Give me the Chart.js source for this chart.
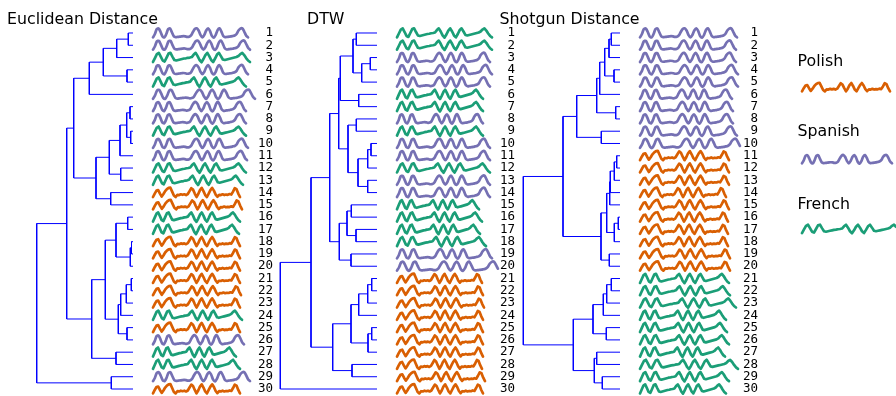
<!DOCTYPE html>
<html><head><meta charset="utf-8">
<script src="https://cdn.jsdelivr.net/npm/chart.js@4/dist/chart.umd.min.js"></script>
<style>
html,body{margin:0;padding:0;background:#fff;width:896px;height:396px;overflow:hidden;position:relative;}
canvas{position:absolute;top:0;}
.t{position:absolute;font-family:'DejaVu Sans',sans-serif;font-size:15.8px;line-height:16px;color:#000;white-space:nowrap;}
</style></head><body>
<script>
// ---------------- DATA ----------------
const rowLabels = [1,2,3,4,5,6,7,8,9,10,11,12,13,14,15,16,17,18,19,20,21,22,23,24,25,26,27,28,29,30];
const panelTitles = ['Euclidean Distance', 'DTW', 'Shotgun Distance'];
const classNames = {P: 'Polish', S: 'Spanish', F: 'French'};
const legendOrder = ['P', 'S', 'F'];

// class of each leaf (top to bottom) in each panel
const euclidClasses  = ['S','S','F','S','F','S','S','S','F','S','S','F','F','P','P','F','F','P','P','P','P','P','P','F','P','S','F','F','S','P'];
const dtwClasses     = ['F','F','S','S','S','F','F','S','F','S','S','F','S','S','F','F','F','F','S','S','P','P','P','P','P','P','P','P','P','P'];
const shotgunClasses = ['S','S','S','S','S','S','S','S','S','S','P','P','P','P','P','P','P','P','P','P','F','F','F','F','F','F','F','F','F','F'];

// series durations (time units) of each leaf series
const euclidDur   = [95,97,97,95,93,102,93,93,93,95,94,93,90,87,89,87,86,87,87,87,87,88,87,89,87,91,83,87,97,87];
const dtwDur      = [95,95,93,95,93,86,86,86,86,93,93,93,93,93,82,85,83,89,95,103,85,86,87,86,86,86,86,85,88,86];
const shotgunDur  = [97,96,96,98,98,92,93,93,97,102,89,89,89,86,89,88,88,88,90,90,89,90,96,86,87,89,85,98,89,86];

// linkage: [childA, childB, distance]; leaves 1..30, merged clusters numbered 31..59
const euclidMerges = [
 [1,2,4.7],[31,3,16.3],[4,5,6],[32,33,29.7],[34,6,43.7],[7,8,3],[9,10,2.3],[36,37,6.3],[38,11,13],
 [12,13,12.3],[39,40,23.7],[14,15,22.3],[41,42,37],[35,43,59.3],[16,17,5.3],[18,19,1.5],[46,20,2.7],
 [45,47,17],[21,22,1.7],[49,23,6.7],[50,24,12.3],[25,26,6],[51,52,14.7],[48,53,27.7],[27,28,17],
 [54,55,41.3],[44,56,66.3],[29,30,21.7],[57,58,96.3]
];
const dtwMerges = [
 [1,2,20.7],[3,4,6.7],[32,5,15.3],[31,33,24],[6,7,18.3],[34,35,36.7],[8,9,20.7],[10,11,6],[38,12,9.3],
 [13,14,9.3],[39,40,19],[37,41,29],[36,42,38.3],[15,16,25.7],[17,18,21],[44,45,30],[19,20,26],
 [46,47,37.7],[43,48,47.3],[21,22,5.3],[50,23,9.3],[51,24,18.3],[25,26,5.3],[53,27,9],[52,54,26],
 [28,29,25],[55,56,44.3],[49,57,66],[58,30,96.7]
];
const shotgunMerges = [
 [1,2,8.7],[31,3,11],[4,5,6],[32,33,15.3],[34,6,20.3],[7,8,4.3],[35,36,23.3],[9,10,18.7],[37,38,43.3],
 [11,12,3.3],[40,13,5.7],[41,14,9.7],[42,15,10.3],[16,17,1.7],[44,18,5.7],[43,45,13.3],[19,20,10.7],
 [46,47,19],[39,48,57],[21,22,8.7],[50,23,13.3],[51,24,16.7],[25,26,13.7],[52,53,27],[27,28,23.3],
 [29,30,17.7],[55,56,25.7],[54,57,46.7],[49,58,96.7]
];

// typical series shape of each class (normalised amplitude, equally spaced samples)
const polishWave = [-0.9,-0.2,0.4,0.5,-0.2,-0.8,-0.3,0.3,0.7,0.95,1.0,0.2,-0.6,-0.9,-0.45,-0.5,-0.35,-0.45,-0.35,-0.5,-0.3,0.3,0.9,0.6,-0.2,-0.9,-0.3,0.5,0.95,0.3,-0.5,-0.9,-0.2,0.5,0.95,0.4,-0.4,-0.85,-0.45,-0.5,-0.35,-0.5,-0.4,-0.45,-0.3,-0.4,0.2,0.9,0.7,-0.2,-0.9];
const spanishWave = [-0.9,-0.2,0.8,0.9,0.2,-0.7,-0.9,-0.2,0.8,0.9,0.1,-0.7,-0.85,-0.8,-0.75,-0.7,-0.65,-0.7,-0.8,-0.75,-0.5,0.2,0.8,0.95,0.5,-0.4,-0.9,-0.4,0.5,0.95,0.4,-0.6,-0.95,-0.4,0.6,0.95,0.3,-0.6,-0.85,-0.8,-0.75,-0.7,-0.6,-0.5,-0.2,0.5,0.9,0.95,0.3,-0.5,-0.9];
const frenchWave  = [-0.9,-0.1,0.7,0.95,0.2,-0.6,-0.8,0.0,0.8,0.95,0.2,-0.5,-0.6,-0.5,-0.4,-0.3,-0.2,-0.15,-0.05,0.0,0.1,0.6,0.95,0.3,-0.5,-0.95,-0.3,0.5,0.95,0.3,-0.5,-0.9,-0.2,0.6,0.95,0.3,-0.4,-0.5,-0.4,-0.3,-0.2,-0.1,0.0,0.1,0.3,0.7,0.95,0.5,-0.1,-0.6,-0.9];
const legendDur = {P: 88, S: 90, F: 100};

// ---------------- STYLE / LAYOUT ----------------
const COLORS = {P: '#d95f02', S: '#7570b3', F: '#1b9e77'};
const WAVES = {P: polishWave, S: spanishWave, F: frenchWave};
const TENSION = {P: 0, S: 0.3, F: 0};
const DENDRO_COLOR = '#0000ff';
const WAVE_GAP = 20;      // x-units between leaves and series
const LEFT_RESERVE = 110; // x-units reserved for the tree
const AXIS_W = 19;
const AMP = 0.4;          // series amplitude in rows
const panelGeom = [
  {leafEdge: 133, right: 273, titleX: 7},
  {leafEdge: 376.7, right: 515, titleX: 307},
  {leafEdge: 620, right: 758, titleX: 499.5}
];
const panels = [
  {merges: euclidMerges, classes: euclidClasses, dur: euclidDur},
  {merges: dtwMerges, classes: dtwClasses, dur: dtwDur},
  {merges: shotgunMerges, classes: shotgunClasses, dur: shotgunDur}
];

function addText(txt, left, top) {
  const d = document.createElement('div');
  d.className = 't'; d.textContent = txt;
  d.style.left = left + 'px'; d.style.top = top + 'px';
  document.body.appendChild(d);
}

function dendroSegments(merges, n) {
  const nodes = {};
  rowLabels.forEach(r => { nodes[r] = {h: 0, y: r}; });
  const segs = [];
  merges.forEach((m, k) => {
    const A = nodes[m[0]], B = nodes[m[1]], h = m[2];
    segs.push([{x: -A.h, y: A.y}, {x: -h, y: A.y}, {x: -h, y: B.y}, {x: -B.h, y: B.y}]);
    nodes[n + k + 1] = {h: h, y: (A.y + B.y) / 2};
  });
  return segs;
}

function wavePoints(cls, dur, x0, yc, amp) {
  const w = WAVES[cls];
  return w.map((v, i) => ({x: x0 + i / (w.length - 1) * dur, y: yc - v * amp}));
}

function waveDataset(cls, pts) {
  return {data: pts, borderColor: COLORS[cls], borderWidth: 2.7, pointRadius: 0, tension: TENSION[cls],
    fill: false, clip: false, borderJoinStyle: 'round', borderCapStyle: 'round'};
}

panels.forEach((p, pi) => {
  const g = panelGeom[pi];
  const left = g.leafEdge - LEFT_RESERVE;
  const W = Math.round(g.right - left);
  const cv = document.createElement('canvas');
  cv.width = W; cv.height = 396;
  cv.style.left = left + 'px'; cv.style.width = W + 'px'; cv.style.height = '396px';
  document.body.appendChild(cv);

  const datasets = [];
  dendroSegments(p.merges, rowLabels.length).forEach(s => {
    datasets.push({data: s, borderColor: DENDRO_COLOR, borderWidth: 1, pointRadius: 0, tension: 0, fill: false, clip: false});
  });
  rowLabels.forEach((r, i) => {
    const c = p.classes[i];
    datasets.push(waveDataset(c, wavePoints(c, p.dur[i], WAVE_GAP, r, AMP)));
  });

  new Chart(cv, {
    type: 'line',
    data: {datasets},
    options: {
      responsive: false, animation: false, devicePixelRatio: 1,
      layout: {padding: {top: 26.86, bottom: 0.86, left: 0, right: 0}},
      plugins: {legend: {display: false}, tooltip: {enabled: false}, title: {display: false}},
      scales: {
        x: {type: 'linear', min: -LEFT_RESERVE, max: W - AXIS_W - LEFT_RESERVE, display: false},
        y: {type: 'linear', position: 'right', reverse: true, min: 0.5, max: 30.5,
          grid: {display: false, drawTicks: false}, border: {display: false},
          afterBuildTicks: s => { s.ticks = rowLabels.map(v => ({value: v})); },
          afterFit: s => { s.width = AXIS_W; s.paddingTop = 0; s.paddingBottom = 0; },
          ticks: {crossAlign: 'far', padding: 4.5, color: '#000', autoSkip: false,
            font: {family: "'DejaVu Sans Mono', monospace", size: 12.5},
            callback: v => String(v)}
        }
      }
    }
  });
  addText(panelTitles[pi], g.titleX, 10.5);
});

// legend
(function(){
  const left = 780, W = 116;
  const cv = document.createElement('canvas');
  cv.width = W; cv.height = 396;
  cv.style.left = left + 'px'; cv.style.width = W + 'px'; cv.style.height = '396px';
  document.body.appendChild(cv);
  const waveY = [87.3, 159.3, 229];
  const textTop = [52.5, 123.2, 195.5];
  const datasets = legendOrder.map((c, i) => waveDataset(c, wavePoints(c, legendDur[c], 22, waveY[i], 4.5)));
  new Chart(cv, {
    type: 'line', data: {datasets},
    options: {
      responsive: false, animation: false, devicePixelRatio: 1,
      layout: {padding: 0},
      plugins: {legend: {display: false}, tooltip: {enabled: false}},
      scales: {x: {type: 'linear', min: 0, max: W, display: false},
               y: {type: 'linear', min: 0, max: 396, reverse: true, display: false}}
    }
  });
  legendOrder.forEach((c, i) => addText(classNames[c], 797.5, textTop[i]));
})();
</script>
</body></html>
